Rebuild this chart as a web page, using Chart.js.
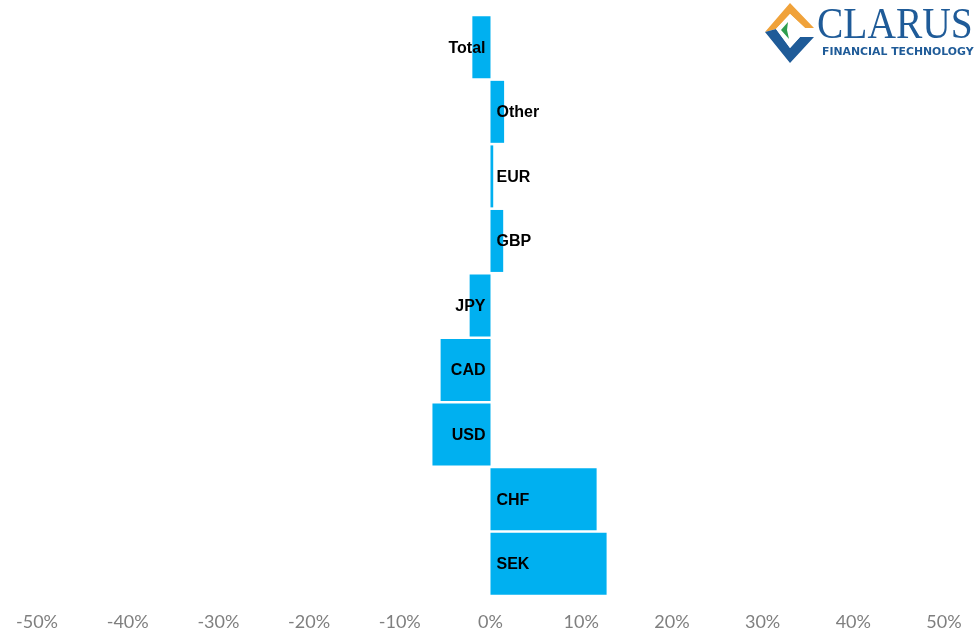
<!DOCTYPE html>
<html lang="en">
<head>
  <meta charset="UTF-8">
  <title>Currency Share Change</title>
  <script src="https://cdn.jsdelivr.net/npm/chart.js"></script>
  <style>
    body {
      margin: 0;
      background: #ffffff;
      font-family: 'Liberation Sans', Arial, sans-serif;
    }
    .wrap {
      position: relative;
      width: 977px;
      height: 639px;
    }
    .logo {
      position: absolute;
      left: 760px;
      top: 0;
      width: 217px;
      height: 66px;
    }
    .logo svg {
      position: absolute;
      left: 0;
      top: 0;
    }
    .clarus {
      position: absolute;
      left: 57px;
      top: 1px;
      font-family: 'Liberation Serif', 'Times New Roman', serif;
      font-size: 44px;
      line-height: 46px;
      color: #1f5b98;
      transform-origin: left top;
      white-space: nowrap;
    }
    .fintech {
      position: absolute;
      left: 62px;
      top: 46px;
      font-family: 'DejaVu Sans', sans-serif;
      font-weight: bold;
      font-size: 10px;
      line-height: 12px;
      color: #1f5b98;
      transform-origin: left top;
      white-space: nowrap;
    }
  </style>
</head>
<body>

<div class="wrap">
  <canvas id="chart" width="977" height="639"></canvas>
  <div class="logo">
    <svg width="60" height="66" viewBox="0 0 60 66">
      <polygon points="30,3 54,28 45,28 30,14 16,29 5,32" fill="#f0a23a"/>
      <polygon points="5,32 16,29 30,48 40,37 54,37 30,63" fill="#1f5b98"/>
      <polygon points="16,29 30,14 45,28 40,28 30,20 21,30 30,41 36,37 40,37 30,48" fill="#ffffff"/>
      <polygon points="21,30 28,22 27,30 29,39" fill="#2e9e4e"/>
    </svg>
    <div class="clarus" id="clarus">CLARUS</div>
    <div class="fintech" id="fintech">FINANCIAL TECHNOLOGY</div>
  </div>
</div>

<script>
  const categories = ['Total', 'Other', 'EUR', 'GBP', 'JPY', 'CAD', 'USD', 'CHF', 'SEK'];
  const changes = [-2.0, 1.5, 0.3, 1.4, -2.3, -5.5, -6.4, 11.7, 12.8];
  const tickValues = [-50, -40, -30, -20, -10, 0, 10, 20, 30, 40, 50];

  // fit the logo text to its width
  function fitWidth(id, w) {
    const el = document.getElementById(id);
    el.style.transform = 'scaleX(' + (w / el.offsetWidth) + ')';
  }
  fitWidth('clarus', 156);
  fitWidth('fintech', 152);

  // category names drawn next to the zero line
  const barLabels = {
    id: 'barLabels',
    afterDatasetsDraw(chart) {
      const ctx = chart.ctx;
      const zero = chart.scales.x.getPixelForValue(0);
      const meta = chart.getDatasetMeta(0);
      ctx.save();
      ctx.font = 'bold 16px "Liberation Sans", Arial, sans-serif';
      ctx.fillStyle = '#000000';
      ctx.textBaseline = 'middle';
      meta.data.forEach((bar, i) => {
        if (changes[i] < 0) {
          ctx.textAlign = 'right';
          ctx.fillText(categories[i], zero - 5, bar.y + 1);
        } else {
          ctx.textAlign = 'left';
          ctx.fillText(categories[i], zero + 6, bar.y + 1);
        }
      });
      ctx.restore();
    }
  };

  new Chart(document.getElementById('chart'), {
    type: 'bar',
    data: {
      labels: categories,
      datasets: [{
        data: changes,
        backgroundColor: '#00b0f0',
        barPercentage: 0.96,
        categoryPercentage: 1.0
      }]
    },
    options: {
      indexAxis: 'y',
      responsive: false,
      animation: false,
      layout: { padding: { left: 37, right: 33, top: 15, bottom: 6 } },
      plugins: { legend: { display: false }, tooltip: { enabled: false } },
      scales: {
        x: {
          min: -50,
          max: 50,
          afterBuildTicks(scale) {
            scale.ticks = tickValues.map(v => ({ value: v }));
          },
          afterFit(scale) {
            scale.height = 37;
          },
          grid: { display: false, drawTicks: false },
          border: { display: false },
          ticks: {
            padding: 15,
            color: '#7f7f7f',
            font: { family: 'Lato', size: 18 },
            maxRotation: 0,
            autoSkip: false,
            callback: v => v + '%'
          }
        },
        y: { display: false }
      }
    },
    plugins: [barLabels]
  });
</script>

</body>
</html>
